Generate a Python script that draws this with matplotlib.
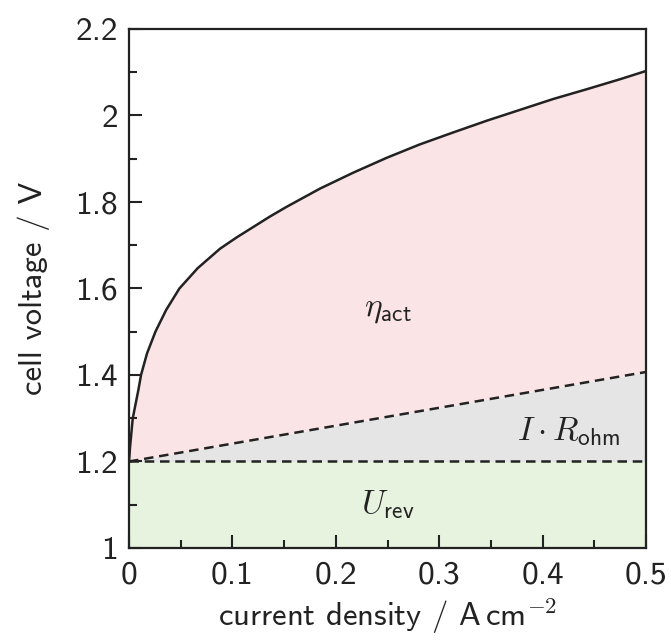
"""Electrolysis polarisation curve split into U_rev, ohmic and activation parts."""

import matplotlib

matplotlib.use("Agg")
import matplotlib.pyplot as plt
from matplotlib.ticker import MultipleLocator

plt.rcParams["font.family"] = ["cmss10", "DejaVu Sans"]
plt.rcParams["mathtext.fontset"] = "cm"
plt.rcParams["axes.unicode_minus"] = False

TEXT_COLOR = "#222222"
LABEL_FONTSIZE = 23.5
TICK_FONTSIZE = 24
ANNOT_FONTSIZE = 24
LINE_W = 1.8
DASHES = (3.8, 2.3)

# values
u_rev = 1.2
ohm_j = [0.0, 0.5]
ohm_u = [1.2, 1.407]

cell_j = [0.0, 0.001, 0.0036, 0.009, 0.0116, 0.0174, 0.0255, 0.0358, 0.0487,
          0.0664, 0.088, 0.104, 0.120, 0.136, 0.1525, 0.1847, 0.217, 0.249,
          0.281, 0.3137, 0.346, 0.378, 0.410, 0.443, 0.475, 0.5]
cell_u = [1.2, 1.234, 1.3, 1.365, 1.4, 1.45, 1.5, 1.55, 1.6,
          1.647, 1.692, 1.718, 1.742, 1.766, 1.789, 1.831, 1.868, 1.902,
          1.933, 1.961, 1.988, 2.013, 2.038, 2.061, 2.084, 2.103]

x_ticks = [0, 0.1, 0.2, 0.3, 0.4, 0.5]
x_ticklabels = ["0", "0.1", "0.2", "0.3", "0.4", "0.5"]
y_ticks = [1.0, 1.2, 1.4, 1.6, 1.8, 2.0, 2.2]
y_ticklabels = ["1", "1.2", "1.4", "1.6", "1.8", "2", "2.2"]


def ohmic_at(j):
    # straight line between the two read end points
    return ohm_u[0] + (ohm_u[1] - ohm_u[0]) * (j - ohm_j[0]) / (ohm_j[1] - ohm_j[0])


fig = plt.figure(figsize=(6.71, 6.41), dpi=100)
ax = fig.add_axes([0.1923, 0.1451, 0.7707, 0.8097])

ohm_on_grid = [ohmic_at(j) for j in cell_j]
ax.fill_between(ohm_j, 1.0, u_rev, color="#e7f2df", lw=0, zorder=1)
ax.fill_between(ohm_j, u_rev, ohm_u, color="#e5e5e5", lw=0, zorder=1)
ax.fill_between(cell_j, ohm_on_grid, cell_u, color="#fbe4e6", lw=0, zorder=1)

ax.plot(ohm_j, [u_rev, u_rev], color=TEXT_COLOR, lw=LINE_W,
        dashes=DASHES, zorder=3)
ax.plot(ohm_j, ohm_u, color=TEXT_COLOR, lw=LINE_W, dashes=DASHES, zorder=3)
ax.plot(cell_j, cell_u, color=TEXT_COLOR, lw=LINE_W, zorder=4,
        solid_joinstyle="round")

ax.text(0.25, 1.55, r"$\eta_\mathsf{act}$", fontsize=ANNOT_FONTSIZE,
        color=TEXT_COLOR, ha="center", va="center")
ax.text(0.425, 1.27, r"$I\cdot R_\mathsf{ohm}$", fontsize=ANNOT_FONTSIZE,
        color=TEXT_COLOR, ha="center", va="center")
ax.text(0.25, 1.10, r"$U_\mathsf{rev}$", fontsize=ANNOT_FONTSIZE,
        color=TEXT_COLOR, ha="center", va="center")

ax.set_xlim(0, 0.5)
ax.set_ylim(1.0, 2.2)
ax.set_xticks(x_ticks, x_ticklabels)
ax.set_yticks(y_ticks, y_ticklabels)
ax.xaxis.set_minor_locator(MultipleLocator(0.05))
ax.yaxis.set_minor_locator(MultipleLocator(0.1))
ax.tick_params(which="both", direction="in", top=False, right=False,
               color=TEXT_COLOR, width=1.5)
ax.tick_params(which="major", length=9.5, labelsize=TICK_FONTSIZE,
               labelcolor=TEXT_COLOR)
ax.tick_params(axis="x", which="major", pad=9)
ax.tick_params(axis="y", which="major", pad=8)
ax.tick_params(which="minor", length=6)
for spine in ax.spines.values():
    spine.set_linewidth(1.6)
    spine.set_color(TEXT_COLOR)
    spine.set_zorder(5)

ax.set_xlabel(r"current density / A$\,$cm$^{\mathsf{-2}}$",
              fontsize=LABEL_FONTSIZE, color=TEXT_COLOR, labelpad=5)
ax.set_ylabel("cell voltage / V", fontsize=LABEL_FONTSIZE, color=TEXT_COLOR,
              labelpad=18)

fig.savefig("out.png", dpi=100)
